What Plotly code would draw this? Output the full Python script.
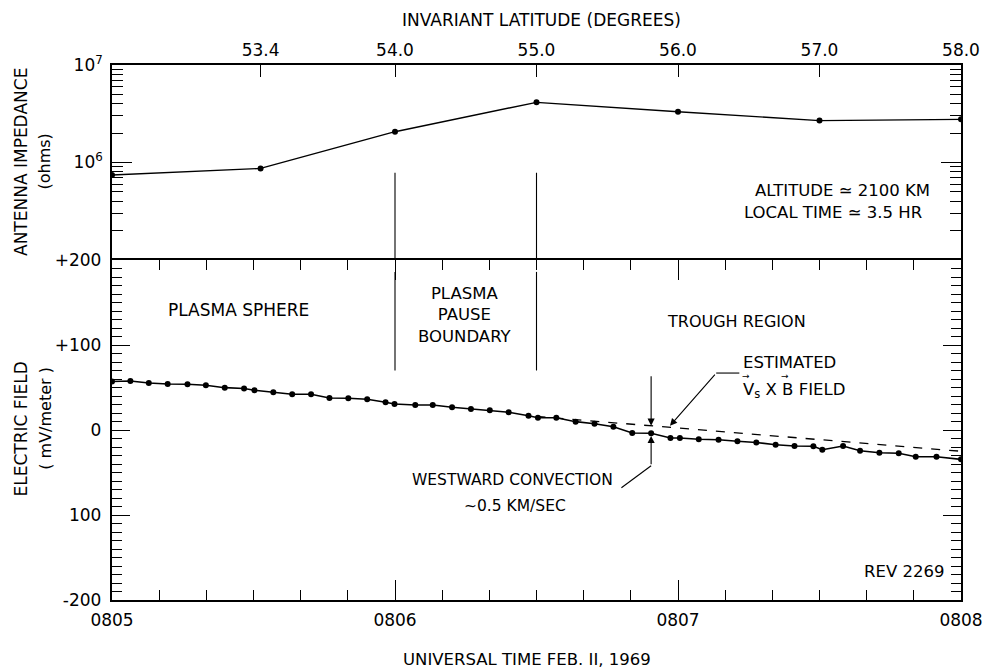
import plotly.graph_objects as go

# ---------------- data ----------------
# time axis in seconds after 08:05:00 UT
imp_time_s = [0, 31.5, 60, 90, 120, 150, 180]
imp_ohms = [7.45e5, 8.7e5, 2.07e6, 4.14e6, 3.32e6, 2.69e6, 2.77e6]

lat_tick_time_s = [31.5, 60, 90, 120, 150, 180]
lat_tick_labels = ["53.4", "54.0", "55.0", "56.0", "57.0", "58.0"]

ut_tick_time_s = [0, 60, 120, 180]
ut_tick_labels = ["0805", "0806", "0807", "0808"]

ef_time_s = [0, 3.9, 7.8, 11.8, 16.0, 19.9, 23.9, 28.0, 30.2, 34.2, 38.2, 42.2,
             46.1, 50.1, 54.1, 58.0, 59.9, 64.3, 68.0, 72.1, 76.1, 80.1, 84.1,
             88.3, 90.3, 94.2, 98.3, 102.3, 106.3, 110.3, 114.3, 118.4, 120.4,
             124.4, 128.6, 132.6, 136.6, 140.7, 144.7, 148.7, 150.6, 155.0,
             158.6, 162.7, 166.8, 170.4, 174.8, 180]
ef_mv_m = [57, 57.6, 55.3, 54.1, 53.8, 52.6, 49.8, 48.8, 46.7, 44.4, 42, 42,
           37.6, 37.3, 36.1, 32.6, 30.6, 29.4, 29.4, 26.7, 24.7, 23.2, 20.8,
           16.8, 14.5, 14.5, 9.8, 7.4, 3.9, -3.5, -3.9, -9.4, -9.4,
           -10.9, -11.4, -13.3, -14.7, -17.3, -18.8, -19.2, -23.2, -18.8,
           -24.4, -26.7, -27.4, -31.4, -31.4, -34.5]

vxb_time_s = [90, 180]
vxb_mv_m = [16, -25]

boundary_time_s = [60, 90]

ef_tick_vals = [-200, -100, 0, 100, 200]
ef_tick_labels = ["-200", "100", "0", "+100", "+200"]

imp_tick_vals = [1e6, 1e7]
imp_tick_labels = ["10<sup>6</sup>", "10<sup>7</sup>"]

# ---------------- figure ----------------
FONT = "DejaVu Sans"
BLACK = "black"
split = 340 / 535

fig = go.Figure()

# top panel impedance
fig.add_trace(go.Scatter(x=imp_time_s, y=imp_ohms, xaxis="x2", yaxis="y2",
                         mode="lines+markers",
                         line=dict(color=BLACK, width=1.4),
                         marker=dict(color=BLACK, size=6)))

# boundary lines (top and bottom panel segments)
for tb in boundary_time_s:
    fig.add_trace(go.Scatter(x=[tb, tb], y=[7.85e5, 1e5], xaxis="x2", yaxis="y2",
                             mode="lines", line=dict(color=BLACK, width=1.1)))
    fig.add_trace(go.Scatter(x=[tb, tb], y=[186, 70], xaxis="x", yaxis="y4",
                             mode="lines", line=dict(color=BLACK, width=1.1)))

# estimated V x B field (dashed)
fig.add_trace(go.Scatter(x=vxb_time_s, y=vxb_mv_m, xaxis="x", yaxis="y3",
                         mode="lines", line=dict(color=BLACK, width=1.3, dash="dash")))

# electric field
fig.add_trace(go.Scatter(x=ef_time_s, y=ef_mv_m, xaxis="x", yaxis="y",
                         mode="lines+markers",
                         line=dict(color=BLACK, width=1.6),
                         marker=dict(color=BLACK, size=6)))

imp_minor = [m * 10 ** e for e in (5, 6) for m in range(2, 10)]

axis_common = dict(showgrid=False, zeroline=False, showline=True,
                   linecolor=BLACK, linewidth=1.6, tickcolor=BLACK,
                   tickfont=dict(family=FONT, size=17, color=BLACK))

# overlay axes that repeat the electric-field tick marks on both sides
ef_overlay = dict(overlaying="y", anchor="x", range=[-200, 200],
                  showgrid=False, zeroline=False, showline=False,
                  showticklabels=False, tickmode="linear", tick0=0, dtick=100,
                  ticks="inside", ticklen=18, tickwidth=1.3, tickcolor=BLACK,
                  minor=dict(ticks="inside", dtick=10, tick0=0, ticklen=10,
                             tickwidth=1.2, tickcolor=BLACK, showgrid=False))

fig.update_layout(
    width=995, height=668,
    margin=dict(l=112, r=26, t=65, b=68),
    paper_bgcolor="white", plot_bgcolor="white",
    showlegend=False,
    font=dict(family=FONT, size=16, color=BLACK),
    xaxis=dict(**axis_common, domain=[0, 1], anchor="y", range=[0, 180],
               tickmode="array", tickvals=ut_tick_time_s, ticktext=ut_tick_labels,
               ticks="inside", ticklen=20, tickwidth=1.3, mirror="ticks",
               ticklabelstandoff=4,
               minor=dict(ticks="inside", dtick=10, tick0=0, ticklen=10,
                          tickwidth=1.2, tickcolor=BLACK, showgrid=False)),
    xaxis2=dict(**axis_common, domain=[0, 1], anchor="y2", side="top",
                range=[0, 180], tickmode="array", tickvals=lat_tick_time_s,
                ticktext=lat_tick_labels, ticks="inside", ticklen=12,
                tickwidth=1.3, mirror=False),
    yaxis=dict(**axis_common, domain=[0, split], anchor="x", range=[-200, 200],
               tickmode="array", tickvals=ef_tick_vals,
               ticktext=[t + "\u00a0" for t in ef_tick_labels],
               ticks="inside", ticklen=18, tickwidth=1.3, mirror="ticks",
               minor=dict(ticks="inside", dtick=10, tick0=0, ticklen=10,
                          tickwidth=1.2, tickcolor=BLACK, showgrid=False)),
    yaxis3=dict(**ef_overlay, side="right"),
    yaxis4=dict(**ef_overlay, side="left"),
    yaxis2=dict(**axis_common, domain=[split, 1], anchor="x2", type="log",
                range=[5, 7], tickmode="array", tickvals=imp_tick_vals,
                ticktext=imp_tick_labels, ticks="inside", ticklen=20,
                tickwidth=1.3, mirror="ticks", ticklabelstandoff=4,
                minor=dict(ticks="inside", tickvals=imp_minor, ticklen=11,
                           tickwidth=1.2, tickcolor=BLACK, showgrid=False)),
)

def note(text, x, y, xref="x", yref="y", xanchor="center", size=16.5, angle=0):
    fig.add_annotation(text=text, x=x, y=y, xref=xref, yref=yref,
                       xanchor=xanchor, yanchor="middle", showarrow=False,
                       textangle=angle,
                       font=dict(family=FONT, size=size, color=BLACK))

# titles
note("INVARIANT LATITUDE (DEGREES)", 0.506, 1.084, "paper", "paper", size=17)
note("UNIVERSAL TIME FEB. II, 1969", 0.489, -0.112, "paper", "paper", size=16.5)
note("ANTENNA IMPEDANCE", -0.107, 0.819, "paper", "paper", size=17, angle=-90)
note("(ohms)", -0.0793, 0.819, "paper", "paper", size=16, angle=-90)
note("ELECTRIC FIELD", -0.107, 0.319, "paper", "paper", size=17, angle=-90)
note("( mV/meter )", -0.0793, 0.340, "paper", "paper", size=16, angle=-90)

# top panel notes
note("ALTITUDE \u2243 2100 KM", 0.966, 0.766, "paper", "paper", xanchor="right")
note("LOCAL TIME \u2243 3.5 HR", 0.957, 0.725, "paper", "paper", xanchor="right")

# bottom panel region labels
note("PLASMA SPHERE", 26.9, 141, size=17)
note("PLASMA<br>PAUSE<br>BOUNDARY", 74.8, 135)
note("TROUGH REGION", 132.3, 128, size=16)
note("ESTIMATED", 133.4, 80, xanchor="left")
note("V<sub>s</sub> X B FIELD", 133.4, 47, xanchor="left")
note("\u2192", 134.5, 63, size=9)
note("\u2192", 142.7, 63, size=9)
note("WESTWARD CONVECTION", 85, -59, size=15.5)
note("~0.5 KM/SEC", 85.5, -89, size=15.5)
note("REV 2269", 176.9, -167, xanchor="right")

# arrows
arrow = dict(showarrow=True, arrowhead=2, arrowsize=1.3, arrowwidth=1.1,
             arrowcolor=BLACK, xref="x", yref="y", axref="x", ayref="y", text="")
fig.add_annotation(x=114.3, y=5, ax=114.3, ay=65, **arrow)
fig.add_annotation(x=114.3, y=-7, ax=114.3, ay=-42, **arrow)
fig.add_annotation(x=118.3, y=5, ax=128.1, ay=67, **arrow)

fig.add_shape(type="line", x0=108, y0=-68, x1=114.3, y1=-42, xref="x", yref="y",
              line=dict(color=BLACK, width=1.1))
fig.add_shape(type="line", x0=128.1, y0=67, x1=133.0, y1=67, xref="x", yref="y",
              line=dict(color=BLACK, width=1.1))

fig.write_html("out.html")
